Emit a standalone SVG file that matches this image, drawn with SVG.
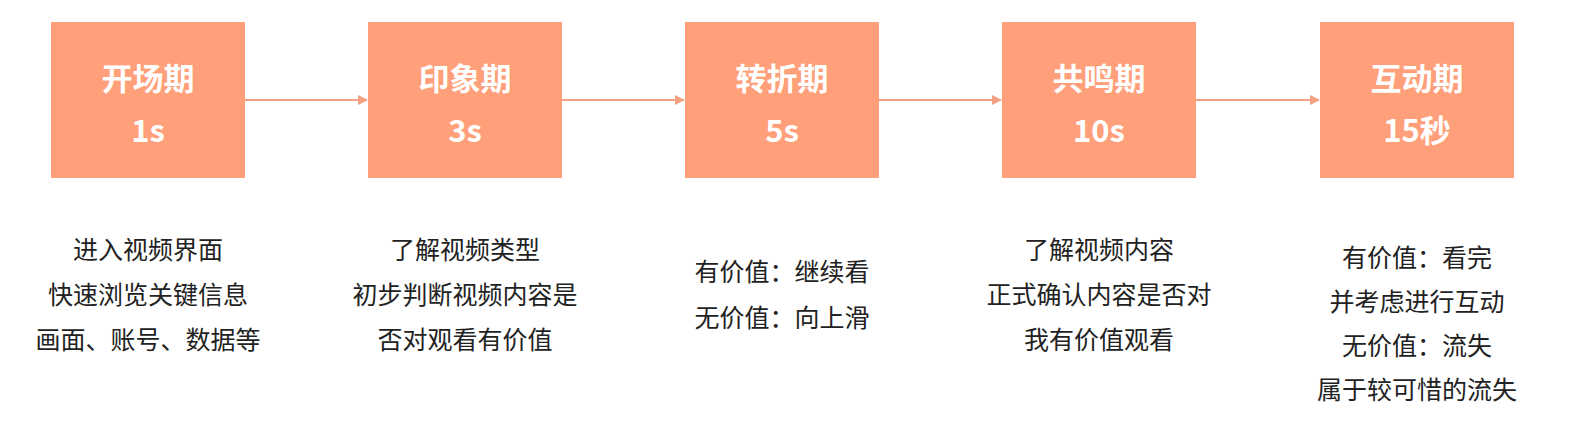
<svg xmlns="http://www.w3.org/2000/svg" width="1576" height="446" viewBox="0 0 1576 446">
<style>
.box{fill:#FFA07A}
.t{font-family:"Noto Sans CJK SC","Noto Sans",sans-serif;font-size:31px;font-weight:bold;fill:#fff;text-anchor:middle}
.d{font-family:"Noto Sans CJK SC",sans-serif;font-size:25px;fill:#222;text-anchor:middle}
.c{stroke:#F4A083;stroke-width:2;fill:none;marker-end:url(#a)}
</style>
<defs><marker id="a" markerWidth="10" markerHeight="10" refX="9" refY="5" orient="auto" markerUnits="userSpaceOnUse"><path d="M0,0L10,5L0,10z" fill="#F4A083"/></marker></defs>
<rect width="1576" height="446" fill="#fff"/>
<g id="connectors">
<path class="c" d="M245,100H367"/>
<path class="c" d="M562,100H684"/>
<path class="c" d="M879,100H1001"/>
<path class="c" d="M1196,100H1319"/>
</g>
<g id="n1"><rect class="box" x="51" y="22" width="194" height="156"/><text class="t" x="148" y="90">开场期</text><text class="t" x="148" y="142">1s</text>
<text class="d" x="148" y="259">进入视频界面</text><text class="d" x="148" y="304">快速浏览关键信息</text><text class="d" x="148" y="349">画面、账号、数据等</text></g>
<g id="n2"><rect class="box" x="368" y="22" width="194" height="156"/><text class="t" x="465" y="90">印象期</text><text class="t" x="465" y="142">3s</text>
<text class="d" x="465" y="259">了解视频类型</text><text class="d" x="465" y="304">初步判断视频内容是</text><text class="d" x="465" y="349">否对观看有价值</text></g>
<g id="n3"><rect class="box" x="685" y="22" width="194" height="156"/><text class="t" x="782" y="90">转折期</text><text class="t" x="782" y="142">5s</text>
<text class="d" x="782" y="281">有价值：继续看</text><text class="d" x="782" y="327">无价值：向上滑</text></g>
<g id="n4"><rect class="box" x="1002" y="22" width="194" height="156"/><text class="t" x="1099" y="90">共鸣期</text><text class="t" x="1099" y="142">10s</text>
<text class="d" x="1099" y="259">了解视频内容</text><text class="d" x="1099" y="304">正式确认内容是否对</text><text class="d" x="1099" y="349">我有价值观看</text></g>
<g id="n5"><rect class="box" x="1320" y="22" width="194" height="156"/><text class="t" x="1417" y="90">互动期</text><text class="t" x="1417" y="142">15秒</text>
<text class="d" x="1417" y="267">有价值：看完</text><text class="d" x="1417" y="311">并考虑进行互动</text><text class="d" x="1417" y="355">无价值：流失</text><text class="d" x="1417" y="399">属于较可惜的流失</text></g>
</svg>
